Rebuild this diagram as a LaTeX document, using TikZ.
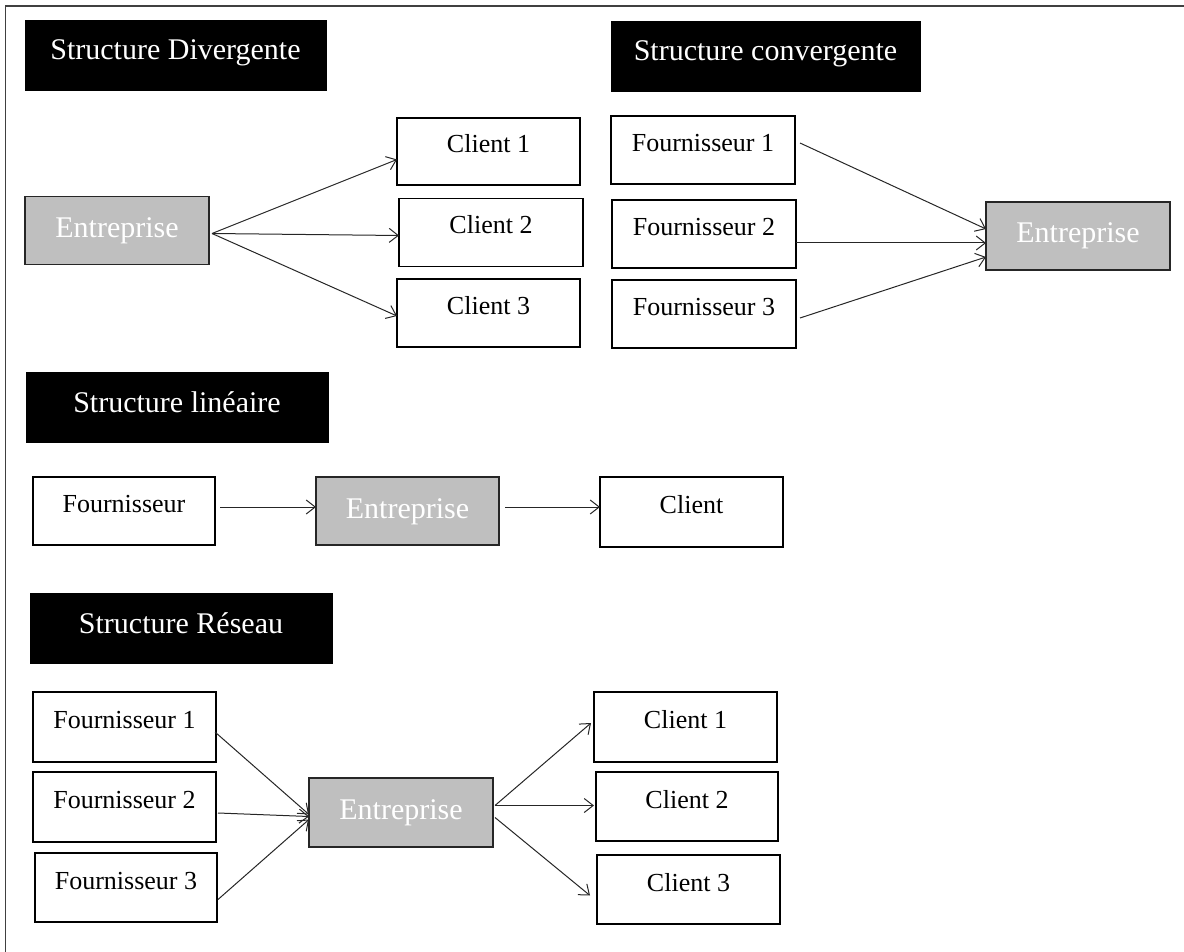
\documentclass[tikz,border=0pt]{standalone}
\usepackage{fontspec}
\setmainfont{Liberation Serif}
\usetikzlibrary{arrows.meta,calc}

\tikzset{
  titlebox/.style={draw=black, fill=black, text=white, inner sep=0pt, outer sep=0pt,
    font=\fontsize{30}{36}\selectfont, text height=20pt, text depth=10pt},
  whitebox/.style={draw=black, line width=1.3pt, fill=white, inner sep=0pt, outer sep=0pt,
    minimum width=184pt, minimum height=68pt,
    font=\fontsize{26}{31}\selectfont, text height=17pt, text depth=14pt},
  graybox/.style={draw=black!85, line width=1.3pt, fill=black!25, text=white, inner sep=0pt, outer sep=0pt,
    minimum width=184pt, minimum height=68pt,
    font=\fontsize{30}{36}\selectfont, text height=20pt, text depth=6pt},
  flow/.style={draw=black!85, line width=1pt, -{Straight Barb[length=9pt,width=14pt,line width=1pt]}}
}

\begin{document}
\begin{tikzpicture}[x=1pt,y=-1pt]
\useasboundingbox (0,0) rectangle (1184,952);

% page frame (top and left edges)
\draw[black!75, line width=1.5pt] (5.5,952) -- (5.5,6) -- (1184,6);

% ---- divergent structure ----
\node[titlebox, minimum width=301pt, minimum height=70pt] (tdiv) at (175.5,55) {Structure Divergente};
\node[graybox] (dent) at (117,230.5) {Entreprise};
\node[whitebox, minimum width=183pt, minimum height=67pt] (dc1) at (488.5,151.5) {Client 1};
\node[whitebox] (dc2) at (491,232.5) {Client 2};
\node[whitebox, minimum width=183pt] (dc3) at (488.5,313) {Client 3};
\draw[flow] ($(dent.east)+(3,3)$) -- ($(dc1.west)+(0,8)$);
\draw[flow] ($(dent.east)+(3,3)$) -- ($(dc2.west)+(0,3)$);
\draw[flow] ($(dent.east)+(3,3)$) -- ($(dc3.west)+(0,3)$);

% ---- convergent structure ----
\node[titlebox, minimum width=309pt, minimum height=70pt] (tconv) at (765.5,56) {Structure convergente};
\node[whitebox] (cf1) at (703,150) {Fournisseur 1};
\node[whitebox] (cf2) at (704,234) {Fournisseur 2};
\node[whitebox] (cf3) at (704,314) {Fournisseur 3};
\node[graybox] (cent) at (1078,236) {Entreprise};
\draw[flow] ($(cf1.east)+(5,-7)$) -- ($(cent.west)+(0,-7)$);
\draw[flow] ($(cf2.east)+(0,9)$) -- ($(cent.west)+(0,7)$);
\draw[flow] ($(cf3.east)+(4,4)$) -- ($(cent.west)+(0,21)$);

% ---- linear structure ----
\node[titlebox, minimum width=302pt, minimum height=70pt] (tlin) at (177,407.5) {Structure linéaire};
\node[whitebox, minimum width=182pt] (lf) at (124,511) {Fournisseur};
\node[graybox, minimum width=183pt] (lent) at (407.5,511) {Entreprise};
\node[whitebox, minimum width=183pt, minimum height=70pt] (lc) at (691.5,512) {Client};
\draw[flow] ($(lf.east)+(5,-4)$) -- ($(lent.west)+(0,-4)$);
\draw[flow] ($(lent.east)+(6,-4)$) -- ($(lc.west)+(0,-5)$);

% ---- network structure ----
\node[titlebox, minimum width=302pt, minimum height=70pt] (tnet) at (181,628) {Structure Réseau};
\node[whitebox, minimum width=183pt, minimum height=70pt] (nf1) at (124.5,727) {Fournisseur 1};
\node[whitebox, minimum width=183pt, minimum height=70pt] (nf2) at (124.5,807) {Fournisseur 2};
\node[whitebox, minimum width=182pt, minimum height=69pt] (nf3) at (126,887.5) {Fournisseur 3};
\node[graybox, minimum width=184pt, minimum height=69pt] (nent) at (401,812.5) {Entreprise};
\node[whitebox, minimum width=183pt, minimum height=70pt] (nc1) at (685.5,727) {Client 1};
\node[whitebox, minimum width=182pt, minimum height=69pt] (nc2) at (687,806.5) {Client 2};
\node[whitebox, minimum width=183pt, minimum height=69pt] (nc3) at (688.5,889.5) {Client 3};
\draw[flow] ($(nf1.east)+(-1,5)$) -- ($(nent.west)+(0,2)$);
\draw[flow] ($(nf2.east)+(2,6)$) -- ($(nent.west)+(0,4)$);
\draw[flow] ($(nf3.east)+(1,12)$) -- ($(nent.west)+(0,7)$);
\draw[flow] ($(nent.east)+(2,-7)$) -- ($(nc1.west)+(-3,-4)$);
\draw[flow] ($(nent.east)+(2,-7)$) -- ($(nc2.west)+(-2,-1)$);
\draw[flow] ($(nent.east)+(2,5)$) -- ($(nc3.west)+(-7,6)$);
\end{tikzpicture}
\end{document}
